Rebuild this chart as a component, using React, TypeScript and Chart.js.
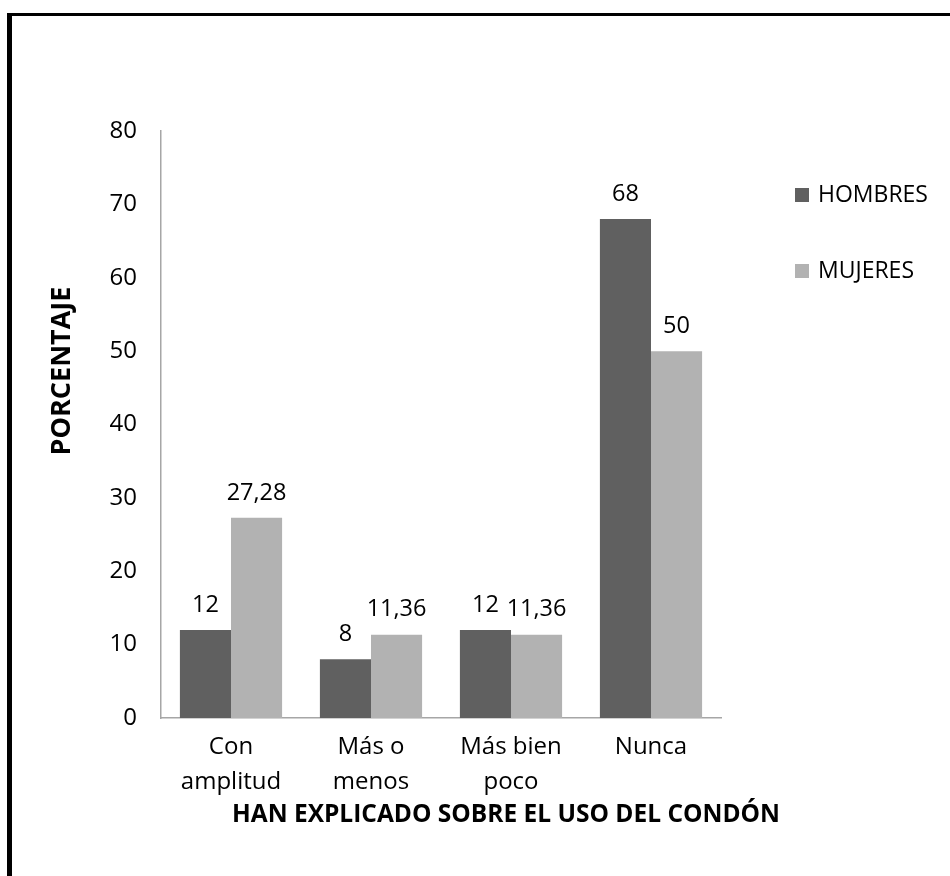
import React, { useEffect, useRef } from "react";
import { Chart, registerables } from "chart.js";

Chart.register(...registerables);

const categories: string[][] = [["Con", "amplitud"], ["Más o", "menos"], ["Más bien", "poco"], ["Nunca"]];
const hombres: number[] = [12, 8, 12, 68];
const mujeres: number[] = [27.28, 11.36, 11.36, 50];
const seriesNames: string[] = ["HOMBRES", "MUJERES"];
const yTitle = "PORCENTAJE";
const xTitle = "HAN EXPLICADO SOBRE EL USO DEL CONDÓN";

const FONT = "'Open Sans', 'DejaVu Sans', sans-serif";
const DARK = "#606060";
const LIGHT = "#b2b2b2";

const fmt = (v: number) => String(v).replace(".", ",");

const labelsPlugin = {
  id: "valueLabels",
  afterDatasetsDraw(chart: any) {
    const ctx = chart.ctx;
    ctx.save();
    ctx.fillStyle = "#000";
    ctx.font = `23.5px ${FONT}`;
    ctx.textAlign = "center";
    ctx.textBaseline = "middle";
    chart.data.datasets.forEach((ds: any, i: number) => {
      const meta = chart.getDatasetMeta(i);
      meta.data.forEach((bar: any, j: number) => {
        ctx.fillText(fmt(ds.data[j]), bar.x, bar.y - 25);
      });
    });
    ctx.restore();
  },
};

const decorPlugin = {
  id: "decor",
  afterDraw(chart: any) {
    const ctx = chart.ctx;
    const ca = chart.chartArea;
    ctx.save();
    ctx.fillStyle = "#000";
    ctx.textAlign = "center";
    ctx.textBaseline = "middle";
    ctx.font = `bold 24.5px ${FONT}`;
    ctx.fillText(xTitle, ca.left + 345, ca.bottom + 97);
    ctx.font = `bold 27px ${FONT}`;
    ctx.translate(ca.left - 99, ca.top + 240);
    ctx.rotate(-Math.PI / 2);
    ctx.fillText(yTitle, 0, 0);
    ctx.restore();
    ctx.save();
    ctx.font = `23px ${FONT}`;
    ctx.textAlign = "left";
    ctx.textBaseline = "middle";
    chart.data.datasets.forEach((ds: any, i: number) => {
      const cy = ca.top + 64 + i * 76;
      const lx = ca.right + 74;
      ctx.fillStyle = ds.backgroundColor;
      ctx.fillRect(lx, cy - 7, 14, 14);
      ctx.fillStyle = "#000";
      ctx.fillText(ds.label, lx + 23, cy);
    });
    ctx.restore();
  },
};

export default function App() {
  const ref = useRef<HTMLCanvasElement | null>(null);
  useEffect(() => {
    if (!ref.current) return;
    const chart = new Chart(ref.current, {
      type: "bar",
      data: {
        labels: categories,
        datasets: [
          { label: seriesNames[0], data: hombres, backgroundColor: DARK },
          { label: seriesNames[1], data: mujeres, backgroundColor: LIGHT },
        ],
      },
      options: {
        responsive: false,
        animation: false,
        layout: { padding: { left: 0, right: 229, top: 131, bottom: 0 } },
        datasets: { bar: { categoryPercentage: 0.73, barPercentage: 1.0 } },
        plugins: { legend: { display: false }, tooltip: { enabled: false }, title: { display: false } },
        scales: {
          x: {
            grid: { display: false, drawTicks: false },
            border: { display: true, color: "#a6a6a6", width: 1.5 },
            ticks: { color: "#000", font: { family: FONT, size: 24, lineHeight: 1.45 }, padding: 12, maxRotation: 0 },
            afterFit: (s: any) => { s.height = 158; },
          },
          y: {
            min: 0,
            max: 80,
            grid: { display: false, drawTicks: false },
            border: { display: true, color: "#a6a6a6", width: 1.5 },
            ticks: { stepSize: 10, color: "#000", font: { family: FONT, size: 24 }, padding: 24 },
            afterFit: (s: any) => { s.width = 161; },
          },
        },
      },
      plugins: [labelsPlugin, decorPlugin],
    });
    return () => chart.destroy();
  }, []);
  return (
    <div style={{ position: "fixed", left: 0, top: 0, width: 950, height: 876, background: "#fff", overflow: "hidden" }}>
      <div style={{ position: "absolute", left: 7, top: 13, width: 950, height: 876, borderTop: "3px solid #000", borderLeft: "5px solid #000", boxSizing: "border-box" }} />
      <canvas ref={ref} width={950} height={876} style={{ position: "absolute", left: 0, top: 0 }} />
    </div>
  );
}
